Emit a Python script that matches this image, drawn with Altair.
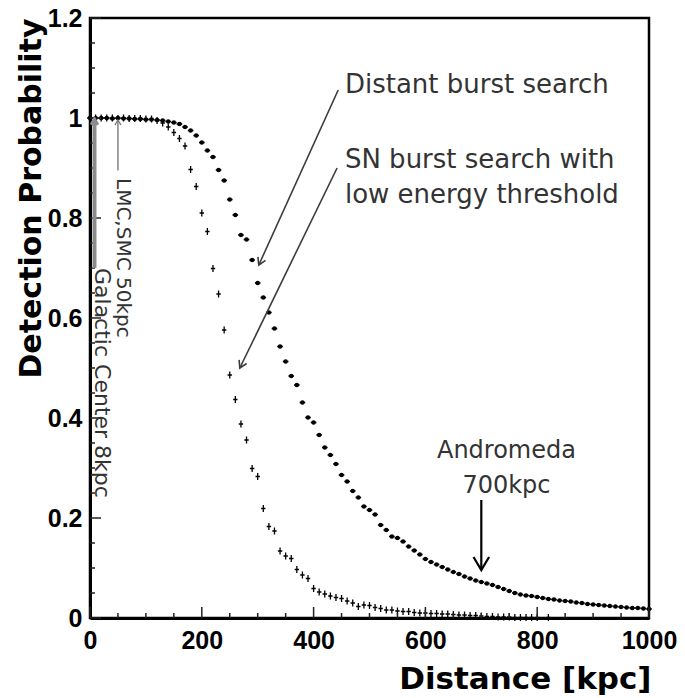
import math
import altair as alt
import pandas as pd

# Detection probability versus distance for two trigger searches (10 kpc bins)
distance_kpc = list(range(0, 1001, 10))
bin_half_width = 5

p_distant = [
    1.000, 1.000, 1.000, 1.000, 0.999, 1.000, 0.999, 0.999, 0.998, 0.998,
    0.997, 0.997, 0.996, 0.995, 0.993, 0.991, 0.988, 0.982, 0.975, 0.965,
    0.951, 0.935, 0.922, 0.896, 0.875, 0.837, 0.806, 0.766, 0.757, 0.716,
    0.670, 0.641, 0.611, 0.579, 0.543, 0.513, 0.484, 0.466, 0.431, 0.401,
    0.391, 0.366, 0.341, 0.326, 0.308, 0.286, 0.273, 0.254, 0.241, 0.223,
    0.216, 0.207, 0.186, 0.176, 0.163, 0.160, 0.153, 0.143, 0.135, 0.127,
    0.118, 0.112, 0.107, 0.102, 0.097, 0.092, 0.088, 0.083, 0.079, 0.075,
    0.072, 0.069, 0.066, 0.062, 0.058, 0.054, 0.050, 0.047, 0.045, 0.044,
    0.042, 0.040, 0.038, 0.037, 0.035, 0.034, 0.033, 0.031, 0.030, 0.028,
    0.027, 0.026, 0.025, 0.024, 0.023, 0.022, 0.021, 0.020, 0.020, 0.019,
    0.018,
]

p_sn_low = [
    1.000, 1.000, 1.000, 1.000, 1.000, 0.999, 1.000, 0.999, 0.999, 0.999,
    0.998, 0.998, 0.995, 0.990, 0.982, 0.971, 0.959, 0.944, 0.897, 0.863,
    0.810, 0.773, 0.699, 0.648, 0.576, 0.486, 0.437, 0.388, 0.356, 0.299,
    0.283, 0.219, 0.183, 0.174, 0.134, 0.124, 0.119, 0.097, 0.086, 0.079,
    0.059, 0.052, 0.048, 0.044, 0.041, 0.039, 0.034, 0.030, 0.023, 0.026,
    0.025, 0.021, 0.019, 0.016, 0.016, 0.014, 0.013, 0.013, 0.011, 0.010,
    0.010, 0.009, 0.009, 0.008, 0.008, 0.007, 0.006, 0.006, 0.005, 0.005,
    0.004, 0.003, 0.003, 0.002, 0.002, 0.002, 0.001, 0.001, 0.001, 0.001,
    0.001, 0.000, 0.001, 0.000, 0.000, 0.000, 0.000, 0.000, 0.000, 0.000,
    0.000, 0.000, 0.000, 0.000, 0.000, 0.000, 0.000, 0.000, 0.000, 0.000,
    0.000,
]

# Axis tick values
x_major = [0, 200, 400, 600, 800, 1000]
x_minor = [v for v in range(50, 1000, 50) if v % 200 != 0]
y_major = [0, 0.2, 0.4, 0.6, 0.8, 1.0, 1.2]
y_minor = [round(0.05 * k, 2) for k in range(1, 24) if k % 4 != 0]

# Annotation arrows (data coordinates)
arrow_d1 = [444, 442, 700, 50, 8]
arrow_p1 = [1.056, 0.900, 0.236, 0.895, 0.700]
arrow_d2 = [302, 268, 700, 50, 8]
arrow_p2 = [0.706, 0.500, 0.096, 0.996, 0.996]
arrow_color = ["#3c3c3c", "#3c3c3c", "#000000", "#7a7a7a", "#8c8c8c"]
arrow_width = [1.6, 1.6, 2.2, 1.4, 4.0]
arrow_head = [7, 7, 13, 5, 5]

# Text labels
label_text = ["Distant burst search", "SN burst search with", "low energy threshold"]
label_d = [456, 456, 456]
label_p = [1.05, 0.90, 0.83]

W, H = 559, 600
XMAX, YMAX = 1000, 1.2

x_scale = alt.Scale(domain=[0, XMAX], nice=False, zero=False)
y_scale = alt.Scale(domain=[0, YMAX], nice=False, zero=False)

x_axis = alt.Axis(
    values=x_major, format="d", ticks=False, grid=False,
    domainColor="black", domainWidth=3,
    labelFont="Liberation Sans", labelFontWeight="bold", labelFontSize=25,
    labelColor="black", labelPadding=10, labelFlush=False, labelOverlap=False,
    title="Distance [kpc]", titleFont="DejaVu Sans", titleFontWeight="bold",
    titleFontSize=31, titleColor="black", titleAlign="right",
    titleBaseline="alphabetic", titleX=W + 2, titleY=70, titleAngle=0,
)
y_axis = alt.Axis(
    values=y_major, format="~g", ticks=False, grid=False,
    domainColor="black", domainWidth=3,
    labelFont="Liberation Sans", labelFontWeight="bold", labelFontSize=25,
    labelColor="black", labelPadding=8, labelFlush=False, labelOverlap=False,
    title="Detection Probability", titleFont="DejaVu Sans", titleFontWeight="bold",
    titleFontSize=30, titleColor="black", titleAlign="right",
    titleBaseline="alphabetic", titleX=-50, titleY=0, titleAngle=270,
)


def ex(field):
    return alt.X(field, type="quantitative", scale=x_scale, axis=x_axis)


def ey(field):
    return alt.Y(field, type="quantitative", scale=y_scale, axis=y_axis)


df = pd.DataFrame({"d": distance_kpc, "p1": p_distant, "p2": p_sn_low})
base = alt.Chart(df).transform_calculate(
    lo=f"datum.d - {bin_half_width}", hi=f"datum.d + {bin_half_width}"
)

# Distant burst search: dots with bin-width bars
distant_bins = base.mark_rule(color="black", strokeWidth=1.6).encode(
    x=ex("lo"), x2="hi:Q", y=ey("p1"),
)
distant = base.mark_circle(size=20, color="black", opacity=1).encode(
    x=ex("d"), y=ey("p1"),
)

# Low-threshold search: small crosses
cross_path = "M-0.8,0H0.8M0,-1.3V1.3"
sn_low = base.transform_filter("datum.p2 > 0").mark_point(
    shape=cross_path, filled=False, color="black", strokeWidth=1.3, size=30, opacity=1
).encode(
    x=ex("d"), y=ey("p2"),
)


# Inward ticks on the bottom and left axes
def x_ticks(values, length):
    return alt.Chart(pd.DataFrame({"v": values})).mark_rule(
        color="#222222", strokeWidth=1.5
    ).encode(
        x=ex("v"), y=alt.value(H), y2=alt.value(H - length),
    )


def y_ticks(values, length):
    return alt.Chart(pd.DataFrame({"v": values})).mark_rule(
        color="#222222", strokeWidth=1.5
    ).encode(
        y=ey("v"), x=alt.value(0), x2=alt.value(length),
    )


ticks = [x_ticks(x_major, 11), x_ticks(x_minor, 5), y_ticks(y_major, 11), y_ticks(y_minor, 5)]

# Arrow shafts and heads
angles = []
for a, b, c, e in zip(arrow_d1, arrow_p1, arrow_d2, arrow_p2):
    dx = (c - a) * W / XMAX
    dy = -(e - b) * H / YMAX
    angles.append(math.degrees(math.atan2(dx, -dy)) % 360)

arrows = pd.DataFrame({
    "d1": arrow_d1, "p1": arrow_p1, "d2": arrow_d2, "p2": arrow_p2,
    "color": arrow_color, "w": arrow_width,
    "hs": [(2 * h) ** 2 for h in arrow_head], "ang": angles,
})

shafts = alt.Chart(arrows).mark_rule().encode(
    x=ex("d1"), y=ey("p1"), x2="d2:Q", y2="p2:Q",
    color=alt.Color("color:N", scale=None),
    strokeWidth=alt.StrokeWidth("w:Q", scale=None),
)

head_path = "M-0.6,1L0,0L0.6,1"
heads = alt.Chart(arrows).mark_point(shape=head_path, filled=False, opacity=1).encode(
    x=ex("d2"), y=ey("p2"),
    color=alt.Color("color:N", scale=None),
    strokeWidth=alt.StrokeWidth("w:Q", scale=None),
    size=alt.Size("hs:Q", scale=None),
    angle=alt.Angle("ang:Q", scale=None),
)

labels = alt.Chart(pd.DataFrame({"d": label_d, "p": label_p, "t": label_text})).mark_text(
    align="left", baseline="alphabetic", font="DejaVu Sans", fontSize=26, color="#333333"
).encode(x=ex("d"), y=ey("p"), text="t:N")

andromeda = alt.Chart(pd.DataFrame({"d": [745, 745], "p": [0.32, 0.25],
                                    "t": ["Andromeda", "700kpc"]})).mark_text(
    align="center", baseline="alphabetic", font="DejaVu Sans", fontSize=24, color="#333333"
).encode(x=ex("d"), y=ey("p"), text="t:N")

lmc = alt.Chart(pd.DataFrame({"d": [48], "p": [0.88], "t": ["LMC,SMC 50kpc"]})).mark_text(
    align="left", baseline="alphabetic", angle=90, font="DejaVu Sans", fontSize=20,
    color="#333333",
).encode(x=ex("d"), y=ey("p"), text="t:N")

galactic = alt.Chart(pd.DataFrame({"d": [9], "p": [0.70], "t": ["Galactic Center 8kpc"]})).mark_text(
    align="left", baseline="alphabetic", angle=90, font="DejaVu Sans", fontSize=22,
    color="#333333",
).encode(x=ex("d"), y=ey("p"), text="t:N")

chart = alt.layer(
    distant_bins, distant, sn_low, *ticks, shafts, heads, labels, andromeda, lmc, galactic
).properties(
    width=W, height=H,
    background="white",
    autosize=alt.AutoSizeParams(type="none"),
    padding={"left": 90, "top": 18, "right": 36, "bottom": 80},
).configure_view(
    stroke="black", strokeWidth=2.5
)

chart.save("out.html", embed_options={"renderer": "svg", "actions": False})
